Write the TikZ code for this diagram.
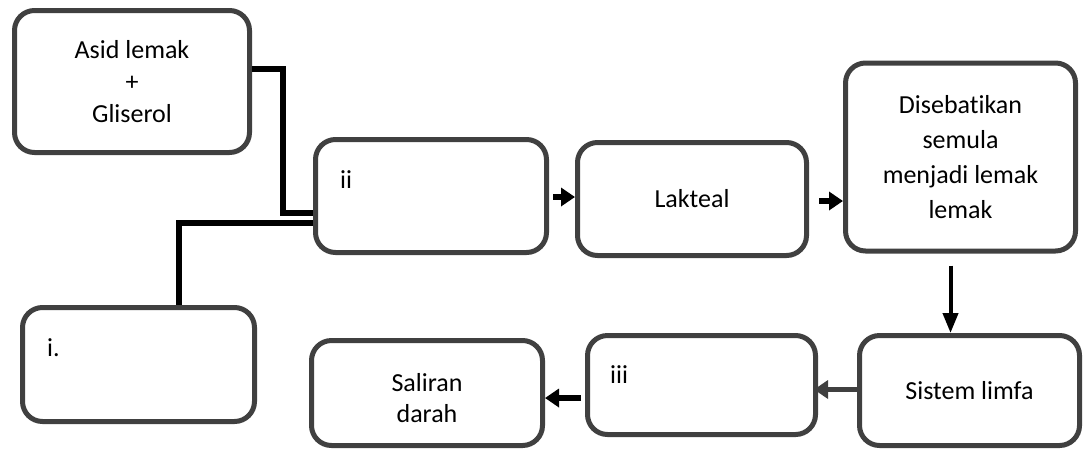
\documentclass[tikz,border=0pt]{standalone}
\usepackage{fontspec}
\setmainfont{Carlito}[Ligatures={NoCommon}]
\usetikzlibrary{arrows.meta}
\definecolor{boxgray}{HTML}{404040}
\begin{document}
\begin{tikzpicture}[x=1pt,y=-1pt,
  box/.style={draw=boxgray, line width=5pt, rounded corners=20pt, fill=white,
    inner sep=0pt, align=center, font=\fontsize{26}{32}\selectfont},
  conn/.style={line width=6pt, black},
  arr/.style={line width=6pt, black, -{Triangle[length=14pt,width=18pt]}},
  darr/.style={line width=4pt, black, -{Triangle[length=20pt,width=15pt]}},
  lab/.style={font=\fontsize{26}{32}\selectfont, inner sep=0pt, anchor=west}]
\useasboundingbox (0,0) rectangle (1083,451);

\node[box, minimum width=235pt, minimum height=142pt] (A) at (132,81.5) {Asid lemak\\+\\Gliserol};
\node[box, minimum width=231pt, minimum height=113pt] (ii) at (431,196) {};
\node[box, minimum width=229pt, minimum height=113pt] (lak) at (692,199) {Lakteal};
\node[box, minimum width=230pt, minimum height=188pt, font=\fontsize{26}{35}\selectfont] (dis) at (960.5,157) {Disebatikan\\semula\\menjadi lemak\\lemak};
\node[box, minimum width=220pt, minimum height=110pt] (sis) at (969.5,390.5) {Sistem limfa};
\node[box, minimum width=228pt, minimum height=99pt] (iii) at (701.5,385) {};
\node[box, minimum width=231pt, minimum height=105pt] (sal) at (427,393) {};
\node[box, draw=none, fill=none, font=\fontsize{26}{31}\selectfont] (saltext) at (427,398) {Saliran\\darah};
\node[box, minimum width=232pt, minimum height=114pt] (i) at (138.5,364.5) {};

\node[lab] (iilab) at (340,180) {ii};
\node[lab] (iiilab) at (610,375) {iii};
\node[lab] (ilab) at (47,348) {i.};

\draw[conn] ([yshift=13pt]A.east) -- ++(31,0) |- ([yshift=-17pt]ii.west);
\draw[conn] ([yshift=-27pt]ii.west) -| ([xshift=40pt]i.north);

\draw[arr, shorten <=4pt] ([yshift=-1pt]ii.east) -- ([yshift=-1pt]lak.west |- ii.east);
\draw[arr, shorten <=10pt] ([yshift=-2pt]lak.east) -- ([yshift=-2pt]dis.west |- lak.east);
\draw[darr, shorten <=12pt] ([xshift=-10pt]dis.south) -- ([xshift=-10pt]dis.south |- sis.north);
\draw[arr, boxgray, line width=5pt, shorten >=-4pt] ([yshift=1pt]sis.west) -- ([yshift=1pt]iii.east |- sis.west);
\draw[arr, shorten <=4pt] ([yshift=-13pt]iii.west) -- ([yshift=-13pt]sal.east |- iii.west);
\end{tikzpicture}
\end{document}
